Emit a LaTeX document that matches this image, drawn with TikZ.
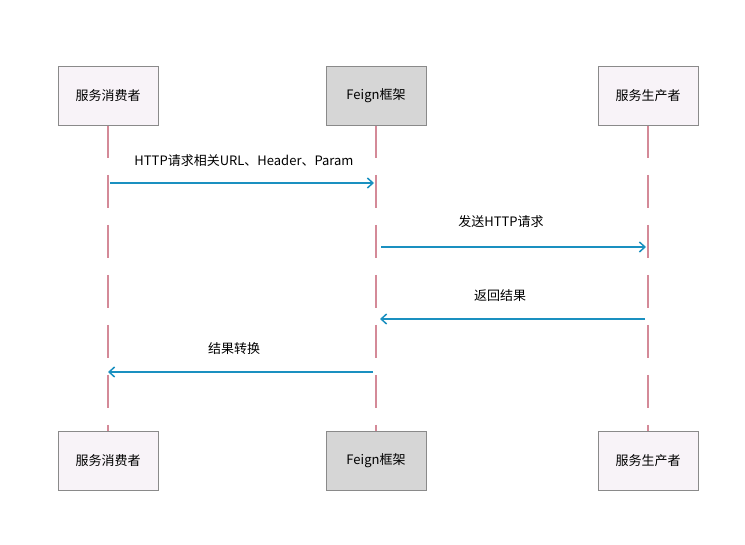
\documentclass[tikz,border=0pt]{standalone}
\usepackage{fontspec}
\setmainfont{Noto Sans CJK SC}
\usetikzlibrary{arrows.meta}
\definecolor{lifec}{HTML}{D48A98}
\definecolor{msgc}{HTML}{1A90C0}
\definecolor{partfill}{HTML}{F8F3F8}
\definecolor{feignfill}{HTML}{D6D6D6}
\definecolor{boxdraw}{HTML}{8A8A8A}
\tikzset{
  part/.style={draw=boxdraw, fill=partfill, minimum width=100pt, minimum height=59pt, inner sep=0pt, font=\fontsize{13}{15}\selectfont},
  feign/.style={part, fill=feignfill},
  lifeline/.style={draw=lifec, line width=1.3pt, dash pattern=on 33pt off 17pt},
  msg/.style={draw=msgc, line width=1.5pt, -{Straight Barb[length=5.5pt,width=10pt,line width=1.5pt]}},
  lbl/.style={font=\fontsize{13}{15}\selectfont, inner sep=0pt}
}
\begin{document}
\begin{tikzpicture}[x=1pt,y=-1pt]
\useasboundingbox (0,0) rectangle (745,545);
% lifelines
\coordinate (c1t) at (108,125); \coordinate (c1b) at (108,431);
\coordinate (c2t) at (376,125); \coordinate (c2b) at (376,431);
\coordinate (c3t) at (648,125); \coordinate (c3b) at (648,431);
\draw[lifeline] (c1t) -- (c1b);
\draw[lifeline] (c2t) -- (c2b);
\draw[lifeline] (c3t) -- (c3b);
% participants
\node[part] (a1) at (108,95.5) {服务消费者};
\node[feign] (b1) at (376,95.5) {Feign框架};
\node[part] (c1) at (648,95.5) {服务生产者};
\node[part] (a2) at (108,460.5) {服务消费者};
\node[feign] (b2) at (376,460.5) {Feign框架};
\node[part] (c2) at (648,460.5) {服务生产者};
% message anchors
\coordinate (m1s) at (110,183); \coordinate (m1e) at (374,183);
\coordinate (m2s) at (381,247); \coordinate (m2e) at (646,247);
\coordinate (m3s) at (645,319); \coordinate (m3e) at (380,319);
\coordinate (m4s) at (373,372); \coordinate (m4e) at (108,372);
\draw[msg] (m1s) -- (m1e);
\draw[msg] (m2s) -- (m2e);
\draw[msg] (m3s) -- (m3e);
\draw[msg] (m4s) -- (m4e);
\node[lbl] (l1) at (244,161) {HTTP请求相关URL、Header、Param};
\node[lbl] (l2) at (501,222) {发送HTTP请求};
\node[lbl] (l3) at (500,296) {返回结果};
\node[lbl] (l4) at (234,349) {结果转换};
\end{tikzpicture}
\end{document}
